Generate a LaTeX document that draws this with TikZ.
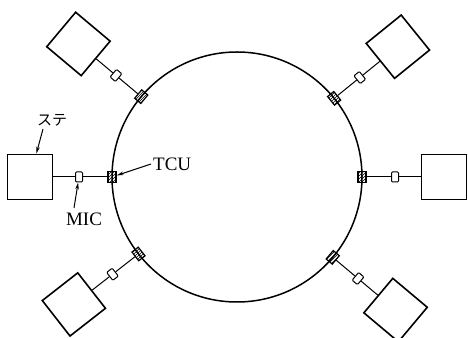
\documentclass[tikz,border=0pt]{standalone}
\usepackage{fontspec}
\setmainfont{Liberation Serif}
\newfontfamily\jpfont{Noto Sans CJK JP}
\usetikzlibrary{arrows.meta,calc,patterns}
\begin{document}
\begin{tikzpicture}[x=1pt,y=1pt,
  station/.style={draw,line width=1.6pt,minimum size=45pt,inner sep=0pt},
  micbox/.style={draw,fill=white,line width=1pt,minimum width=7pt,minimum height=10pt,inner sep=0pt,rounded corners=1pt},
  tcubox/.style={draw,line width=1.2pt,pattern=north east lines,minimum width=8pt,minimum height=11pt,inner sep=0pt},
  link/.style={line width=1pt},
  ring/.style={line width=1.5pt},
  leader/.style={line width=1pt,-{Stealth[length=7pt,width=3.5pt]}},
  lbl/.style={font=\fontsize{19}{20}\selectfont,inner sep=0pt}]
\useasboundingbox (0,0) rectangle (468,337);
\coordinate (C) at (237,160);
\draw[ring] (C) circle (125);
% stations around the ring: angle / name
\foreach \a/\n in {0/r,39/ur,140/ul,180/l,218/ll,320/lr}{
  \node[tcubox,rotate=\a] (tcu-\n) at ($(C)+(\a:125)$) {};
  \node[micbox,rotate=\a] (mic-\n) at ($(C)+(\a:158)$) {};
  \node[station,rotate=\a] (box-\n) at ($(C)+(\a:207)$) {};
  \draw[link] (box-\n) -- (mic-\n);
  \draw[link] (mic-\n) -- (tcu-\n);
}
% labels
\node[font=\jpfont\fontsize{15}{16}\selectfont,inner sep=0pt] (ste) at (52,217) {ステ};
\coordinate (ste-from) at (43,208);
\draw[leader] (ste-from) -- (box-l);
\node[lbl] (miclbl) at (84,118) {MIC};
\coordinate (mic-from) at (74,129);
\draw[leader] (mic-from) -- (mic-l);
\node[lbl,anchor=west] (tculbl) at (153,173) {TCU};
\coordinate (tcu-from) at (151,173);
\draw[leader] (tcu-from) -- (tcu-l);
\end{tikzpicture}
\end{document}
